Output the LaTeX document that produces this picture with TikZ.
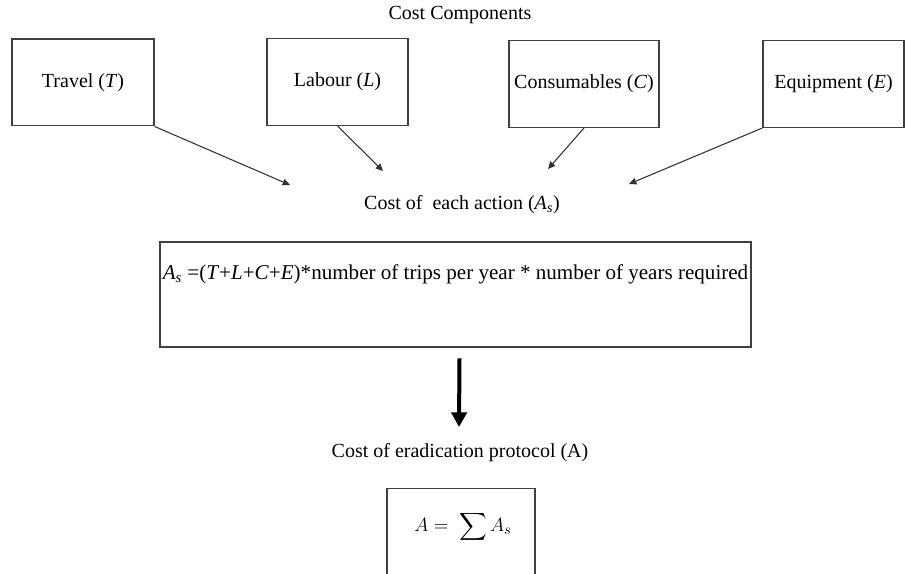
\documentclass[tikz,border=0pt]{standalone}
\usepackage{amsmath}
\usepackage{fontspec}
\setmainfont{Liberation Serif}
\usetikzlibrary{arrows.meta}
\definecolor{boxline}{RGB}{64,64,64}
\definecolor{arrline}{RGB}{50,50,50}

\begin{document}
\begin{tikzpicture}[x=0.75pt, y=-0.75pt,
    every node/.style={font=\fontsize{15}{18}\selectfont},
    compbox/.style={draw=boxline, line width=1pt, inner sep=0pt,
      minimum height=65pt, minimum width=#1},
    thinarr/.style={arrline, line width=0.8pt,
      -{Triangle[length=5.5pt, width=5pt]}},
    bigarr/.style={black, line width=3pt,
      -{Triangle[length=11pt, width=11.5pt]}}]

    \clip (0,0) rectangle (906,574);

    %% cost components
    \node (title) at (460,15) {Cost Components};

    \node[compbox=106.5pt] (travel) at (83,82.5) {Travel (\textit{T})};
    \node[compbox=105.75pt] (labour) at (337.5,82) {Labour (\textit{L})};
    \node[compbox=112.5pt] (consum) at (584,84) {Consumables (\textit{C})};
    \node[compbox=105.75pt] (equip) at (833.5,84) {Equipment (\textit{E})};

    \coordinate (tipT) at (290,185);
    \coordinate (tipL) at (383,171);
    \coordinate (tipC) at (548,169);
    \coordinate (tipE) at (629,184);

    \draw[thinarr] (travel.south east) -- (tipT);
    \draw[thinarr] (labour.south) -- (tipL);
    \draw[thinarr] (consum.south) -- (tipC);
    \draw[thinarr] (equip.south west) -- (tipE);

    %% cost of each action
    \node (action) at (462,205)
      {Cost of\ \ each action (\textit{A}\textsubscript{\textit{s}})};

    \node[draw=boxline, line width=1pt, minimum width=443.25pt,
      minimum height=78.75pt] (formula) at (455.5,294.5) {};
    \node[font=\fontsize{15.8}{19}\selectfont] (formtext) at (455.5,274)
      {\textit{A}\textsubscript{\textit{s}} =(\textit{T}+\textit{L}+\textit{C}+\textit{E})*number
       of trips per year * number of years required};

    \draw[bigarr] ([xshift=3pt, yshift=-8pt]formula.south) -- (459,427);

    %% cost of eradication protocol
    \node (protocol) at (460,453) {Cost of eradication protocol (A)};

    \node[draw=boxline, line width=1pt, minimum width=111pt,
      minimum height=75pt, anchor=north] (sumbox) at (461,488) {};
    \node[font=\fontsize{15}{18}\selectfont] (total) at (463,527)
      {$\displaystyle A = \;\sum A_s$};

  \end{tikzpicture}
\end{document}
